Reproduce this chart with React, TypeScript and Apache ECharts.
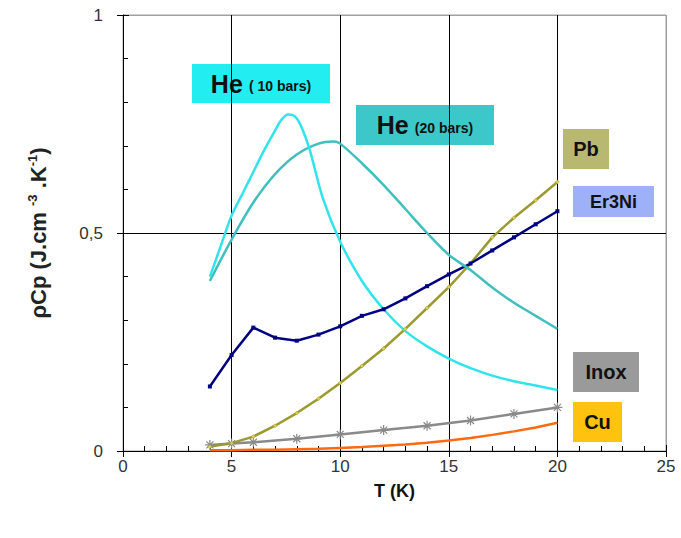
import React, { useEffect, useRef } from "react";
import * as echarts from "echarts";

// ---- data ----
const he10T = [4, 4.5, 5, 5.5, 6, 6.5, 7, 7.3, 7.6, 7.9, 8.2, 8.6, 9.2, 10, 11, 12, 13, 14, 15, 16, 17, 18, 19, 20];
const he10V = [0.40, 0.47, 0.54, 0.59, 0.64, 0.69, 0.735, 0.76, 0.772, 0.768, 0.745, 0.69, 0.58, 0.48, 0.39, 0.325, 0.275, 0.24, 0.212, 0.19, 0.173, 0.16, 0.15, 0.14];

const he20T = [4, 5, 6, 7, 8, 9, 9.7, 10, 11, 12, 13, 14, 15, 16, 17, 18, 19, 20];
const he20V = [0.39, 0.485, 0.57, 0.635, 0.68, 0.705, 0.71, 0.705, 0.66, 0.61, 0.555, 0.5, 0.45, 0.415, 0.375, 0.34, 0.31, 0.28];

const intT = [4, 5, 6, 7, 8, 9, 10, 11, 12, 13, 14, 15, 16, 17, 18, 19, 20];
const er3niV = [0.148, 0.22, 0.283, 0.26, 0.253, 0.267, 0.286, 0.31, 0.325, 0.35, 0.378, 0.405, 0.43, 0.46, 0.49, 0.52, 0.55];
const pbV = [0.01, 0.018, 0.033, 0.058, 0.087, 0.12, 0.156, 0.195, 0.235, 0.28, 0.328, 0.376, 0.43, 0.49, 0.535, 0.575, 0.617];
const cuV = [0.002, 0.002, 0.003, 0.003, 0.004, 0.005, 0.007, 0.009, 0.012, 0.015, 0.019, 0.024, 0.03, 0.037, 0.045, 0.054, 0.065];

const inoxT = [4, 5, 6, 8, 10, 12, 14, 16, 18, 20];
const inoxV = [0.014, 0.017, 0.02, 0.028, 0.038, 0.048, 0.058, 0.07, 0.085, 0.1];

const xTicks = [0, 5, 10, 15, 20, 25];
const yTicks = [0, 0.5, 1];

const zip = (xs: number[], ys: number[]) => xs.map((x, i) => [x, ys[i]]);

const ASTERISK = "path://M0,5L10,5M5,0L5,10M1.5,1.5L8.5,8.5M8.5,1.5L1.5,8.5";

export default function App() {
  const ref = useRef<HTMLDivElement>(null);
  useEffect(() => {
    if (!ref.current) return;
    const chart = echarts.init(ref.current, undefined, { renderer: "svg" });
    const font = "Arial, 'Liberation Sans', sans-serif";
    const label = (
      x: number, y: number, w: number, h: number, bg: string, rich: string, fontSize: number
    ) => ({
      type: "group",
      x, y,
      children: [
        { type: "rect", shape: { x: 0, y: 0, width: w, height: h }, style: { fill: bg } },
        {
          type: "text",
          x: w / 2, y: h / 2,
          style: {
            text: rich,
            align: "center",
            verticalAlign: "middle",
            fill: "#111",
            font: `bold ${fontSize}px ${font}`,
            rich: {
              big: { fontSize: 25, fontWeight: "bold", fontFamily: font, fill: "#111" },
              sm: { fontSize: 14, fontWeight: "bold", fontFamily: font, fill: "#111", padding: [5, 0, 0, 0] },
            },
          },
        },
      ],
    });

    const baseAxisX = {
      type: "value", min: xTicks[0], max: xTicks[xTicks.length - 1], interval: 5,
    };
    const baseAxisY = {
      type: "value", min: yTicks[0], max: yTicks[yTicks.length - 1], interval: 0.5,
    };

    chart.setOption({
      animation: false,
      backgroundColor: "#fff",
      grid: {
        left: 123, right: 15, top: 15, bottom: 87,
        show: true, borderColor: "#a0a0a0", borderWidth: 1,
      },
      xAxis: [
        {
          ...baseAxisX,
          name: "T (K)",
          nameLocation: "middle",
          nameGap: 31,
          nameTextStyle: { fontSize: 18, fontWeight: "bold", color: "#111", fontFamily: font },
          axisLine: { show: true, onZero: false, lineStyle: { color: "#000", width: 1 } },
          axisTick: { show: true, inside: false, length: 6, lineStyle: { color: "#000" } },
          axisLabel: {
            margin: 7, fontSize: 17, color: "#333", fontFamily: font,
            formatter: (v: number) => String(v),
          },
          splitLine: {
            show: true,
            lineStyle: { color: ["#000", "#000", "#000", "#000", "#000", "#a0a0a0"], width: 1 },
          },
        },
        {
          ...baseAxisX,
          position: "bottom",
          axisLine: { show: false },
          axisTick: { show: true, inside: true, length: 6, lineStyle: { color: "#000" } },
          minorTick: { show: true, splitNumber: 5, length: 5, lineStyle: { color: "#000" } },
          axisLabel: { show: false },
          splitLine: { show: false },
        },
      ],
      yAxis: [
        {
          ...baseAxisY,
          name: "{t|ρCp (J.cm }{s|-3}{t| .K}{s|-1}{t|)}",
          nameLocation: "middle",
          nameGap: 72,
          nameRotate: 90,
          nameTextStyle: {
            rich: {
              t: { fontSize: 22, fontWeight: "bold", color: "#222", fontFamily: font },
              s: { fontSize: 13, fontWeight: "bold", color: "#222", fontFamily: font, verticalAlign: "top", padding: [0, 0, 12, 0] },
            },
          },
          axisLine: { show: true, onZero: false, lineStyle: { color: "#000", width: 1 } },
          axisTick: { show: true, inside: false, length: 6, lineStyle: { color: "#000" } },
          axisLabel: {
            margin: 20, fontSize: 17, color: "#333", fontFamily: font,
            formatter: (v: number) => String(v).replace(".", ","),
          },
          splitLine: {
            show: true,
            lineStyle: { color: ["#000", "#000", "#a0a0a0"], width: 1 },
          },
        },
        {
          ...baseAxisY,
          position: "left",
          axisLine: { show: false },
          axisTick: { show: true, inside: true, length: 6, lineStyle: { color: "#000" } },
          minorTick: { show: true, splitNumber: 5, length: 5, lineStyle: { color: "#000" } },
          axisLabel: { show: false },
          splitLine: { show: false },
        },
      ],
      series: [
        {
          name: "Cu", type: "line", data: zip(intT, cuV), showSymbol: false,
          lineStyle: { color: "#ff6a10", width: 2.5 }, itemStyle: { color: "#ff6a10" },
        },
        {
          name: "Inox", type: "line", data: zip(inoxT, inoxV),
          symbol: ASTERISK, symbolSize: 10,
          lineStyle: { color: "#8a8a8a", width: 2.5 },
          itemStyle: { color: "none", borderColor: "#8a8a8a", borderWidth: 1.2 },
        },
        {
          name: "Pb", type: "line", data: zip(intT, pbV),
          symbol: "diamond", symbolSize: 4,
          lineStyle: { color: "#9a9a30", width: 2.5 },
          itemStyle: { color: "#e0d050", borderColor: "#9a9a30", borderWidth: 0.5 },
        },
        {
          name: "Er3Ni", type: "line", data: zip(intT, er3niV),
          symbol: "rect", symbolSize: 4,
          lineStyle: { color: "#000080", width: 2.5 }, itemStyle: { color: "#000080" },
        },
        {
          name: "He (20 bars)", type: "line", data: zip(he20T, he20V), showSymbol: false, smooth: 0.3,
          lineStyle: { color: "#40bfbf", width: 2.5 }, itemStyle: { color: "#40bfbf" },
        },
        {
          name: "He (10 bars)", type: "line", data: zip(he10T, he10V), showSymbol: false, smooth: 0.3,
          lineStyle: { color: "#33e3eb", width: 2.5 }, itemStyle: { color: "#33e3eb" },
        },
      ],
      graphic: [
        label(192, 64, 138, 39, "#22eef2", "{big|He} {sm|( 10 bars)}", 22),
        label(356, 105, 138, 40, "#3cc8c8", "{big|He} {sm|(20 bars)}", 22),
        label(563, 129, 46, 40, "#b8b870", "Pb", 20),
        label(573, 186, 81, 31, "#9eb0f8", "Er3Ni", 18),
        label(573, 352, 66, 40, "#9a9a9a", "Inox", 20),
        label(573, 402, 49, 40, "#ffc20e", "Cu", 20),
      ],
    });
    return () => chart.dispose();
  }, []);
  return <div ref={ref} style={{ position: "absolute", left: 0, top: 0, width: 681, height: 538 }} />;
}
